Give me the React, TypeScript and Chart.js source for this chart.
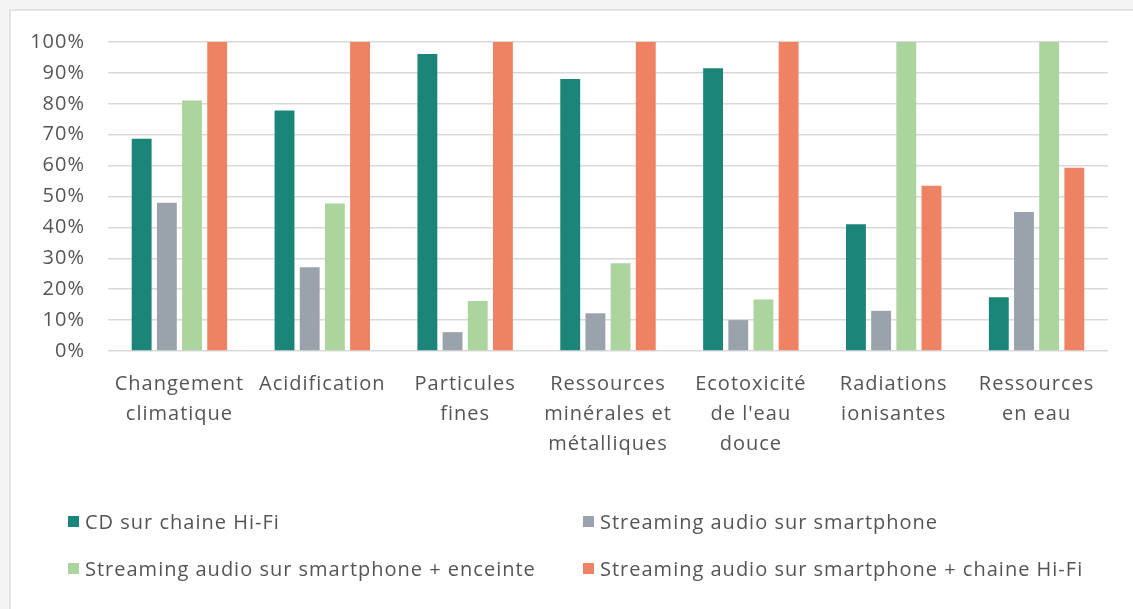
import React, { useEffect, useRef } from "react";
import { Chart, registerables } from "chart.js";

Chart.register(...registerables);

const categories: string[][] = [
  ["Changement", "climatique"],
  ["Acidification"],
  ["Particules", "fines"],
  ["Ressources", "minérales et", "métalliques"],
  ["Ecotoxicité", "de l'eau", "douce"],
  ["Radiations", "ionisantes"],
  ["Ressources", "en eau"],
];

const seriesNames = [
  "CD sur chaine Hi-Fi",
  "Streaming audio sur smartphone",
  "Streaming audio sur smartphone + enceinte",
  "Streaming audio sur smartphone + chaine Hi-Fi",
];

const cdHifi = [68.7, 77.8, 96.1, 88, 91.5, 41, 17.4];
const streamingSmartphone = [48, 27.1, 6.1, 12.2, 10, 13, 45];
const streamingEnceinte = [81.1, 47.7, 16.2, 28.4, 16.7, 100, 100];
const streamingHifi = [100, 100, 100, 100, 100, 53.5, 59.3];

const colors = ["#1b8579", "#9aa2ab", "#acd49f", "#ef8262"];

const yTicks = [0, 10, 20, 30, 40, 50, 60, 70, 80, 90, 100];

const FONT = "'Open Sans', sans-serif";
const TEXT_COLOR = "#555555";

const spacingPlugin = {
  id: "letterSpacing",
  beforeLayout(chart: any) {
    try { chart.ctx.letterSpacing = "1px"; } catch (e) {}
  },
  beforeDraw(chart: any) {
    try { chart.ctx.letterSpacing = "1px"; } catch (e) {}
  },
};

export default function App() {
  const canvasRef = useRef<HTMLCanvasElement | null>(null);

  useEffect(() => {
    if (!canvasRef.current) return;
    const values = [cdHifi, streamingSmartphone, streamingEnceinte, streamingHifi];
    const chart = new Chart(canvasRef.current, {
      type: "bar",
      data: {
        labels: categories,
        datasets: seriesNames.map((name, i) => ({
          label: name,
          data: values[i],
          backgroundColor: colors[i],
          borderWidth: 0,
          categoryPercentage: 0.705,
          barPercentage: 0.79,
        })),
      },
      plugins: [spacingPlugin],
      options: {
        animation: false,
        responsive: true,
        maintainAspectRatio: false,
        layout: { padding: { top: 31, right: 25, bottom: 0, left: 0 } },
        plugins: {
          legend: { display: false },
          tooltip: { enabled: false },
        },
        scales: {
          x: {
            grid: { display: false, drawTicks: false },
            border: { display: false },
            ticks: {
              color: TEXT_COLOR,
              font: { family: FONT, size: 20, lineHeight: 1.5 },
              padding: 18,
              maxRotation: 0,
              autoSkip: false,
            },
            afterFit: (scale: any) => {
              scale.height = 258;
              scale.paddingLeft = 0;
              scale.paddingRight = 0;
            },
          },
          y: {
            min: 0,
            max: 100,
            afterBuildTicks: (scale: any) => {
              scale.ticks = yTicks.map((v) => ({ value: v }));
            },
            grid: { color: "#d9d9d9", lineWidth: 1.5, drawTicks: false },
            border: { display: false },
            ticks: {
              color: TEXT_COLOR,
              font: { family: FONT, size: 20 },
              padding: 23,
              callback: (v: any) => `${v}%`,
            },
            afterFit: (scale: any) => {
              scale.width = 97;
              scale.paddingTop = 0;
              scale.paddingBottom = 0;
            },
          },
        },
      },
    });
    return () => chart.destroy();
  }, []);

  const legendItem = (i: number, left: number, top: number) => (
    <div
      key={i}
      style={{
        position: "absolute",
        left,
        top,
        height: 30,
        display: "flex",
        alignItems: "center",
        whiteSpace: "nowrap",
        fontFamily: FONT,
        fontSize: 20,
        letterSpacing: "1px",
        color: TEXT_COLOR,
      }}
    >
      <span
        style={{
          display: "inline-block",
          width: 11,
          height: 11,
          background: colors[i],
          marginRight: 6,
        }}
      />
      {seriesNames[i]}
    </div>
  );

  return (
    <div style={{ position: "fixed", left: 0, top: 0, width: 1133, height: 609, background: "#f4f4f4", overflow: "hidden" }}>
      <div
        style={{
          position: "absolute",
          left: 9,
          top: 9,
          width: 1124,
          height: 600,
          background: "#ffffff",
          borderLeft: "2px solid #e3e3e3",
          borderTop: "2px solid #e3e3e3",
        }}
      >
        <div style={{ position: "absolute", left: 0, top: 0, width: 1122, height: 598 }}>
          <canvas ref={canvasRef} />
        </div>
        {legendItem(0, 57, 495)}
        {legendItem(1, 572, 495)}
        {legendItem(2, 57, 542)}
        {legendItem(3, 572, 542)}
      </div>
    </div>
  );
}
